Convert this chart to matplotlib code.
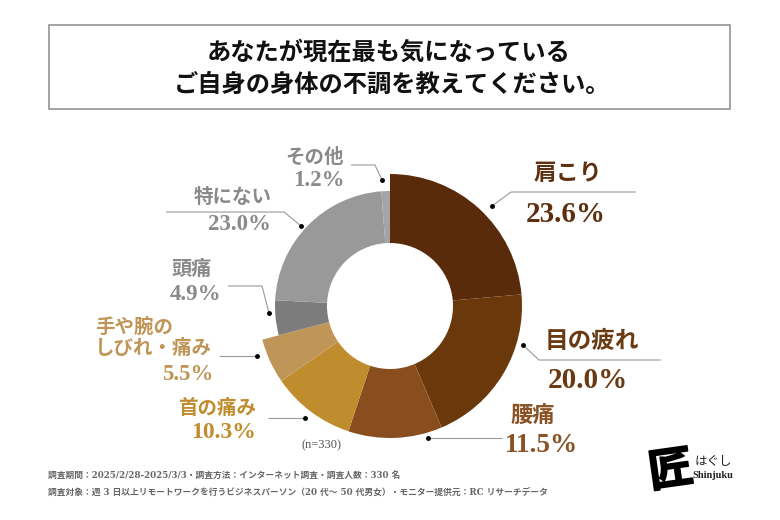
import matplotlib
matplotlib.use('Agg')
import matplotlib.pyplot as plt
from matplotlib.patches import Rectangle
import matplotlib.patheffects as pe

plt.rcParams['font.family'] = ['Liberation Serif', 'Noto Sans CJK JP', 'DejaVu Sans']

categories = ['肩こり', '目の疲れ', '腰痛', '首の痛み', '手や腕の\nしびれ・痛み', '頭痛', '特にない', 'その他']
values = [23.6, 20.0, 11.5, 10.3, 5.5, 4.9, 23.0, 1.2]
slice_colors = ['#5a2b0a', '#6b380c', '#8a4e1e', '#c08d2e', '#c09658', '#7c7c7c', '#999999', '#a4a4a4']
slice_radius = [132, 132, 132, 132, 132, 115, 115, 115]
text_colors = ['#5f3010', '#6b3a12', '#8a5326', '#c08d2e', '#c09658', '#8a8a8a', '#8a8a8a', '#8a8a8a']

title_lines = ['あなたが現在最も気になっている', 'ご自身の身体の不調を教えてください。']
note_lines = ['調査期間：2025/2/28-2025/3/3・調査方法：インターネット調査・調査人数：330 名',
              '調査対象：週 3 日以上リモートワークを行うビジネスパーソン（20 代～ 50 代男女）・モニター提供元：RC リサーチデータ']

CX, CY, R, R_IN = 390, 306, 132, 63

fig = plt.figure(figsize=(7.8, 5.2), dpi=100, facecolor='white')

# donut gets its own axes, scaled so that 1 data unit = 1 px
ax_pie = fig.add_axes([(CX - R) / 780, (520 - CY - R) / 520, 2 * R / 780, 2 * R / 520])
wedges, _ = ax_pie.pie(values, colors=slice_colors, startangle=90, counterclock=False, radius=R)
for w, r in zip(wedges, slice_radius):
    w.set_radius(r)
    w.set_width(r - R_IN)
ax_pie.set_xlim(-R, R)
ax_pie.set_ylim(-R, R)
ax_pie.axis('off')

# everything else in pixel coords
ax = fig.add_axes([0, 0, 1, 1], zorder=3)
ax.set_xlim(0, 780)
ax.set_ylim(520, 0)
ax.axis('off')
ax.patch.set_alpha(0)

ax.add_patch(Rectangle((49, 25), 681, 84, fc='white', ec='#8a8a8a', lw=1.1))
ax.text(389, 53, title_lines[0], ha='center', va='center', fontsize=17.5, fontweight='bold', color='#111111')
ax.text(392, 85, title_lines[1], ha='center', va='center', fontsize=17.5, fontweight='bold', color='#111111')


def label(i, xn, yn, xv, yv, size, vsize, ha='center'):
    c = text_colors[i]
    ax.text(xn, yn, categories[i], ha=ha, va='center', fontsize=size, fontweight='bold', color=c, linespacing=1.1)
    ax.text(xv, yv, '%.1f%%' % values[i], ha='center', va='center', fontsize=vsize, fontweight='bold', color=c)


label(0, 568, 174, 566, 214, 16.5, 21)
label(1, 592, 342, 588, 380, 17, 21)
label(2, 533, 417, 541, 445, 16, 19.5)
label(3, 217, 408, 224, 432, 14, 17)
label(4, 95, 338, 188, 374, 14, 16.5, ha='left')
label(5, 192, 270, 196, 294, 14.5, 16.5)
label(6, 233, 197, 239, 225, 14, 16.5)
label(7, 314, 157, 319, 180, 14, 16.5)

leaders = [
    ([636, 511, 492], [192, 192, 206]),
    ([661, 539, 523], [360, 360, 345]),
    ([502, 428], [438, 438]),
    ([268, 305], [418, 418]),
    ([219, 257], [356, 356]),
    ([228, 262, 269], [286, 286, 313]),
    ([166, 284, 301], [212, 212, 226]),
    ([351, 375, 382], [165, 165, 180]),
]
for xs, ys in leaders:
    ax.plot(xs, ys, color='#999999', lw=0.8, solid_capstyle='butt')
    ax.plot(xs[-1], ys[-1], 'o', ms=2.5, color='black')

ax.text(321, 445, '(n=330)', ha='center', va='center', fontsize=9, color='#555555')

note_font = ['DejaVu Serif', 'Noto Sans CJK JP']
ax.text(48, 476, note_lines[0], ha='left', va='center', fontsize=6.3, fontweight='bold', color='#666666', family=note_font)
ax.text(48, 492, note_lines[1], ha='left', va='center', fontsize=6.3, fontweight='bold', color='#666666', family=note_font)

# logo
ax.text(671, 473, '匠', ha='center', va='center', fontsize=32, fontweight='bold', color='black', rotation=8,
        path_effects=[pe.withStroke(linewidth=1.2, foreground='black')])
ax.text(713, 462, 'はぐし', ha='center', va='center', fontsize=9, color='#222222')
ax.text(713, 476, 'Shinjuku', ha='center', va='center', fontsize=7.5, fontweight='bold', color='#222222')

fig.savefig('out.png', dpi=100)
